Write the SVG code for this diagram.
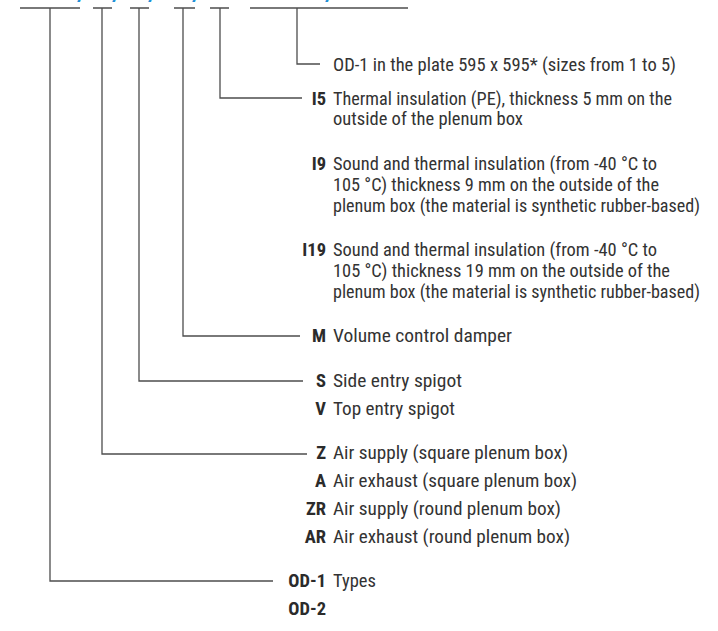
<svg xmlns="http://www.w3.org/2000/svg" width="718" height="631" viewBox="0 0 718 631">
<style>
.t{font-family:"Liberation Sans Narrow","Roboto Condensed","DejaVu Sans Condensed","Liberation Sans",sans-serif;font-stretch:condensed;font-size:18px;fill:#333;}
.b{font-family:"Liberation Sans Narrow","Roboto Condensed","DejaVu Sans Condensed","Liberation Sans",sans-serif;font-stretch:condensed;font-size:18.5px;font-weight:bold;fill:#2b2b2b;text-anchor:end;}
.c{fill:none;stroke:#4d4d4d;stroke-width:1.3;}
.sl{font-family:"Liberation Sans",sans-serif;font-size:22px;font-style:italic;font-weight:bold;fill:#1e90d6;}
</style>
<rect width="718" height="631" fill="#fff"/>
<g id="code-slashes">
<text class="sl" x="78" y="1.5">/</text>
<text class="sl" x="113" y="1.5">/</text>
<text class="sl" x="149" y="1.5">/</text>
<text class="sl" x="193" y="1.5">/</text>
<text class="sl" x="326" y="1.5">/</text>
</g>
<g id="connectors">
<path class="c" d="M20 8H80M93 8H112M130 8H149M174 8H195M210 8H229M250 8H408"/>
<path class="c" d="M297 8V64H320"/>
<path class="c" d="M220 8V98H302"/>
<path class="c" d="M183 8V336H300"/>
<path class="c" d="M139 8V381H303"/>
<path class="c" d="M102 8V454H307"/>
<path class="c" d="M50 8V581H273"/>
</g>
<g id="size">
<text class="t" x="333" y="71" textLength="343" lengthAdjust="spacingAndGlyphs">OD-1 in the plate 595 x 595* (sizes from 1 to 5)</text>
</g>
<g id="I5">
<text class="b" x="326" y="105">I5</text>
<text class="t" x="333" y="105" textLength="339" lengthAdjust="spacingAndGlyphs">Thermal insulation (PE), thickness 5 mm on the</text>
<text class="t" x="333" y="125" textLength="190" lengthAdjust="spacingAndGlyphs">outside of the plenum box</text>
</g>
<g id="I9">
<text class="b" x="326" y="170">I9</text>
<text class="t" x="333" y="170" textLength="324" lengthAdjust="spacingAndGlyphs">Sound and thermal insulation (from -40 °C to</text>
<text class="t" x="333" y="191" textLength="326" lengthAdjust="spacingAndGlyphs">105 °C) thickness 9 mm on the outside of the</text>
<text class="t" x="333" y="212" textLength="367" lengthAdjust="spacingAndGlyphs">plenum box (the material is synthetic rubber-based)</text>
</g>
<g id="I19">
<text class="b" x="326" y="256">I19</text>
<text class="t" x="333" y="256" textLength="324" lengthAdjust="spacingAndGlyphs">Sound and thermal insulation (from -40 °C to</text>
<text class="t" x="333" y="277" textLength="337" lengthAdjust="spacingAndGlyphs">105 °C) thickness 19 mm on the outside of the</text>
<text class="t" x="333" y="298" textLength="367" lengthAdjust="spacingAndGlyphs">plenum box (the material is synthetic rubber-based)</text>
</g>
<g id="M">
<text class="b" x="326" y="342">M</text>
<text class="t" x="333" y="342" textLength="179" lengthAdjust="spacingAndGlyphs">Volume control damper</text>
</g>
<g id="S">
<text class="b" x="326" y="387">S</text>
<text class="t" x="333" y="387" textLength="129" lengthAdjust="spacingAndGlyphs">Side entry spigot</text>
</g>
<g id="V">
<text class="b" x="326" y="415">V</text>
<text class="t" x="333" y="415" textLength="122" lengthAdjust="spacingAndGlyphs">Top entry spigot</text>
</g>
<g id="Z">
<text class="b" x="326" y="459">Z</text>
<text class="t" x="333" y="459" textLength="235" lengthAdjust="spacingAndGlyphs">Air supply (square plenum box)</text>
</g>
<g id="A">
<text class="b" x="326" y="487">A</text>
<text class="t" x="333" y="487" textLength="244" lengthAdjust="spacingAndGlyphs">Air exhaust (square plenum box)</text>
</g>
<g id="ZR">
<text class="b" x="326" y="515">ZR</text>
<text class="t" x="333" y="515" textLength="228" lengthAdjust="spacingAndGlyphs">Air supply (round plenum box)</text>
</g>
<g id="AR">
<text class="b" x="326" y="543">AR</text>
<text class="t" x="333" y="543" textLength="237" lengthAdjust="spacingAndGlyphs">Air exhaust (round plenum box)</text>
</g>
<g id="OD-1">
<text class="b" x="326" y="587">OD-1</text>
<text class="t" x="333" y="587" textLength="43" lengthAdjust="spacingAndGlyphs">Types</text>
</g>
<g id="OD-2">
<text class="b" x="326" y="615">OD-2</text>
</g>
</svg>
